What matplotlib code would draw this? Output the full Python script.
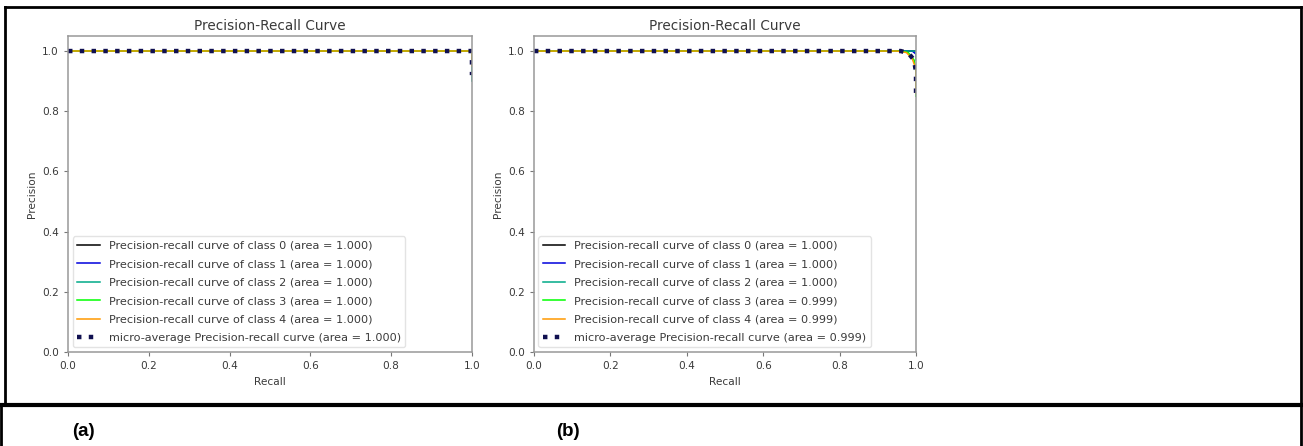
import matplotlib.pyplot as plt
from matplotlib.lines import Line2D

# class colours follow nipy_spectral at i / n_classes
n_classes = 5
classes = [0, 1, 2, 3, 4]

# (a) precision-recall points per class
recall_a = [
    [0.0, 1.0, 1.0],
    [0.0, 1.0, 1.0],
    [0.0, 1.0, 1.0],
    [0.0, 1.0, 1.0],
    [0.0, 1.0, 1.0],
]
precision_a = [
    [1.0, 1.0, 1.0],
    [1.0, 1.0, 0.99],
    [1.0, 1.0, 0.90],
    [1.0, 1.0, 0.97],
    [1.0, 1.0, 0.95],
]
area_a = [1.000, 1.000, 1.000, 1.000, 1.000]
micro_recall_a = [0.0, 0.998, 1.0, 1.0]
micro_precision_a = [1.0, 1.0, 0.97, 0.92]
micro_area_a = 1.000

# (b)
recall_b = [
    [0.0, 1.0],
    [0.0, 0.99, 1.0],
    [0.0, 0.98, 1.0, 1.0],
    [0.0, 0.96, 0.98, 0.995, 1.0, 1.0],
    [0.0, 0.95, 0.975, 0.99, 1.0, 1.0],
]
precision_b = [
    [1.0, 1.0],
    [1.0, 1.0, 0.99],
    [1.0, 1.0, 1.0, 0.97],
    [1.0, 1.0, 0.995, 0.97, 0.93, 0.85],
    [1.0, 1.0, 0.995, 0.975, 0.94, 0.86],
]
area_b = [1.000, 1.000, 1.000, 0.999, 0.999]
micro_recall_b = [0.0, 0.96, 0.98, 0.995, 1.0, 1.0]
micro_precision_b = [1.0, 1.0, 0.993, 0.97, 0.93, 0.85]
micro_area_b = 0.999

panel_labels = ["(a)", "(b)"]

TXT = "#3a3a3a"
FS = 7.6


def pr_panel(ax, recalls, precisions, areas, m_rec, m_prec, m_area):
    cmap = plt.get_cmap("nipy_spectral")
    for i, c in enumerate(classes):
        ax.plot(recalls[i], precisions[i], lw=1.1, color=cmap(float(i) / n_classes),
                label=f"Precision-recall curve of class {c} (area = {areas[i]:.3f})")
    ax.plot(m_rec, m_prec, color="#101050", linestyle=":", lw=3.2,
            label=f"micro-average Precision-recall curve (area = {m_area:.3f})")
    ax.set_xlim([0.0, 1.0])
    ax.set_ylim([0.0, 1.05])
    ax.set_title("Precision-Recall Curve", fontsize=9.8, color=TXT, pad=4)
    ax.set_xlabel("Recall", fontsize=FS, color=TXT)
    ax.set_ylabel("Precision", fontsize=FS, color=TXT)
    ax.tick_params(labelsize=FS, labelcolor=TXT, color="#777777", length=3)
    for s in ax.spines.values():
        s.set_color("#999999")
        s.set_linewidth(1.1)
    leg = ax.legend(loc="lower left", fontsize=8.1, frameon=True, labelcolor=TXT,
                    handlelength=2.0, labelspacing=0.75, borderaxespad=0.4)
    leg.get_frame().set_edgecolor("#dddddd")


fig = plt.figure(figsize=(13.03, 4.46), dpi=100)

ax_a = fig.add_axes([0.0522, 0.2108, 0.310, 0.7085])
ax_b = fig.add_axes([0.4098, 0.2108, 0.2932, 0.7085])

pr_panel(ax_a, recall_a, precision_a, area_a, micro_recall_a, micro_precision_a, micro_area_a)
pr_panel(ax_b, recall_b, precision_b, area_b, micro_recall_b, micro_precision_b, micro_area_b)

# frame around the plots and the caption strip
W, H = 1303.0, 446.0
def fx(px):
    return px / W
def fy(py):
    return 1 - py / H

frame = [
    ([5, 1301], [7, 7], 2.0),
    ([5, 5], [7, 405], 2.0),
    ([1301, 1301], [7, 446], 2.0),
    ([1, 1303], [405, 405], 3.0),
    ([1, 1], [405, 446], 2.0),
]
for xs, ys, lw in frame:
    fig.add_artist(Line2D([fx(x) for x in xs], [fy(y) for y in ys], color="black",
                          lw=lw, transform=fig.transFigure))

for lab, px in zip(panel_labels, [72, 556]):
    fig.text(fx(px), fy(431), lab, fontsize=13.5, fontweight="bold",
             family="Liberation Sans", va="center", ha="left")

fig.savefig("out.png", dpi=100)
